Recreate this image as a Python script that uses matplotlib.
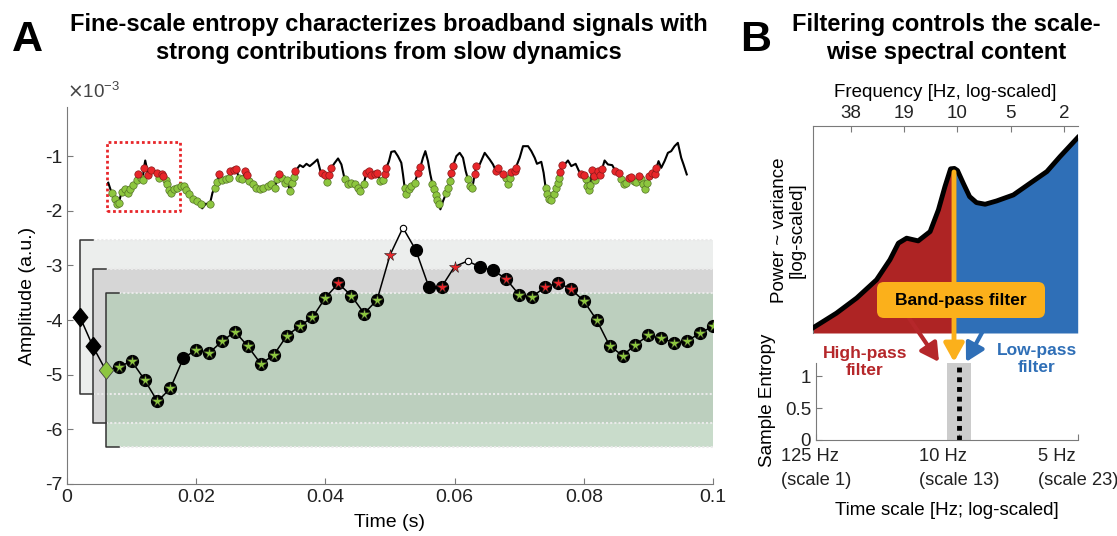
import numpy as np
import matplotlib
matplotlib.use('Agg')
import matplotlib.pyplot as plt
from matplotlib.patches import FancyBboxPatch, FancyArrowPatch
from matplotlib.path import Path
from matplotlib.ticker import FuncFormatter

plt.rcParams['font.family'] = ['Liberation Sans', 'DejaVu Sans']
plt.rcParams['axes.unicode_minus'] = False
plt.rcParams['font.size'] = 13.5

# ---- panel A data (amplitudes in units of 1e-3) ----
amp_unit = 1e-3

# raw signal (top trace): time, amplitude, class ('g' match, 'r' no match, '-' no marker)
sig_t = [0.00639, 0.00690, 0.00742, 0.00778, 0.00804, 0.00845, 0.00897, 0.00948, 0.00974, 0.01026,
         0.01077, 0.01093, 0.01139, 0.01170, 0.01191, 0.01211, 0.01258, 0.01294, 0.01345, 0.01397,
         0.01428, 0.01464, 0.01490, 0.01531, 0.01552, 0.01573, 0.01604, 0.01655, 0.01706, 0.01758,
         0.01809, 0.01840, 0.01892, 0.01953, 0.02015, 0.02067, 0.02093, 0.02149, 0.02211, 0.02252,
         0.02288, 0.02324, 0.02355, 0.02396, 0.02458, 0.02500, 0.02530, 0.02582, 0.02623, 0.02659,
         0.02716, 0.02757, 0.02788, 0.02820, 0.02882, 0.02933, 0.02985, 0.03036, 0.03114, 0.03165,
         0.03217, 0.03253, 0.03284, 0.03330, 0.03372, 0.03408, 0.03449, 0.03490, 0.03516, 0.03537,
         0.03604, 0.03655, 0.03707, 0.03758, 0.03820, 0.03877, 0.03923, 0.03954, 0.03990, 0.04026,
         0.04057, 0.04093, 0.04145, 0.04196, 0.04248, 0.04299, 0.04350, 0.04402, 0.04453, 0.04505,
         0.04541, 0.04592, 0.04634, 0.04670, 0.04711, 0.04763, 0.04799, 0.04850, 0.04892, 0.04917,
         0.04943, 0.04984, 0.05020, 0.05072, 0.05123, 0.05175, 0.05201, 0.05227, 0.05253, 0.05294,
         0.05330, 0.05382, 0.05433, 0.05470, 0.05510, 0.05547, 0.05588, 0.05624, 0.05656, 0.05682,
         0.05707, 0.05733, 0.05759, 0.05780, 0.05821, 0.05873, 0.05898, 0.05924, 0.05950, 0.05976,
         0.06027, 0.06079, 0.06130, 0.06172, 0.06208, 0.06234, 0.06275, 0.06311, 0.06337, 0.06388,
         0.06466, 0.06543, 0.06595, 0.06640, 0.06667, 0.06749, 0.06790, 0.06827, 0.06853, 0.06879,
         0.06931, 0.06946, 0.07007, 0.07059, 0.07137, 0.07188, 0.07240, 0.07275, 0.07342, 0.07378,
         0.07409, 0.07435, 0.07461, 0.07497, 0.07533, 0.07564, 0.07600, 0.07616, 0.07636, 0.07662,
         0.07703, 0.07755, 0.07806, 0.07874, 0.07925, 0.07961, 0.07997, 0.08028, 0.08049, 0.08075,
         0.08101, 0.08127, 0.08160, 0.08177, 0.08219, 0.08255, 0.08281, 0.08322, 0.08374, 0.08440,
         0.08490, 0.08543, 0.08579, 0.08615, 0.08656, 0.08697, 0.08734, 0.08770, 0.08811, 0.08852,
         0.08888, 0.08914, 0.08945, 0.08981, 0.09017, 0.09059, 0.09095, 0.09121, 0.09157, 0.09199,
         0.09250, 0.09302, 0.09353, 0.09405, 0.09456, 0.09508, 0.09544, 0.09594]
sig_amp = [-1.486, -1.669, -1.790, -1.882, -1.851, -1.651, -1.608, -1.669, -1.608, -1.529,
           -1.444, -1.334, -1.407, -1.444, -1.213, -1.079, -1.346, -1.261, -1.290, -1.316,
           -1.395, -1.334, -1.365, -1.444, -1.517, -1.626, -1.669, -1.608, -1.590, -1.547,
           -1.547, -1.626, -1.699, -1.778, -1.821, -1.869, -1.955, -1.870, -1.882, -1.669,
           -1.578, -1.474, -1.334, -1.444, -1.419, -1.407, -1.273, -1.261, -1.243, -1.395,
           -1.426, -1.273, -1.346, -1.456, -1.517, -1.578, -1.608, -1.578, -1.547, -1.517,
           -1.578, -1.426, -1.334, -1.395, -1.486, -1.444, -1.638, -1.486, -1.383, -1.273,
           -1.164, -1.200, -1.140, -1.182, -1.121, -1.060, -1.273, -1.304, -1.346, -1.468,
           -1.346, -1.213, -1.121, -1.042, -1.152, -1.426, -1.517, -1.486, -1.517, -1.578,
           -1.638, -1.517, -1.304, -1.273, -1.346, -1.334, -1.304, -1.456, -1.444, -1.334,
           -1.213, -1.091, -0.921, -0.908, -1.000, -1.121, -1.334, -1.578, -1.687, -1.608,
           -1.547, -1.486, -1.304, -1.200, -1.030, -0.908, -1.091, -1.334, -1.504, -1.608,
           -1.711, -1.809, -1.882, -1.973, -1.821, -1.669, -1.578, -1.456, -1.304, -1.182,
           -1.000, -0.939, -1.030, -1.273, -1.426, -1.547, -1.578, -1.334, -1.182, -1.152,
           -0.939, -1.060, -1.152, -1.273, -1.213, -1.334, -1.395, -1.504, -1.395, -1.285,
           -1.273, -1.213, -1.030, -0.817, -0.817, -0.908, -1.030, -1.140, -1.103, -1.304,
           -1.578, -1.687, -1.790, -1.809, -1.687, -1.578, -1.486, -1.407, -1.285, -1.170,
           -1.152, -1.079, -1.182, -1.140, -1.273, -1.322, -1.346, -1.426, -1.547, -1.626,
           -1.529, -1.261, -1.365, -1.444, -1.273, -1.346, -1.243, -1.079, -1.152, -1.164,
           -1.273, -1.304, -1.426, -1.517, -1.492, -1.407, -1.383, -1.456, -1.468, -1.365,
           -1.426, -1.517, -1.608, -1.486, -1.365, -1.304, -1.334, -1.225, -1.091, -1.213,
           -1.091, -0.939, -0.908, -0.817, -0.756, -1.030, -1.152, -1.334]
sig_cls = list('-ggggggggg' 'grggr-rr-r' 'grrggggggg' 'gggggg--g-' 'ggrgggrrrg'
               'grrggggggg' 'ggrggggggr' '-------rrg' 'rr---ggggg' 'ggrrrrrggr'
               'r------ggg' 'ggrr----gg' 'ggg--gggrr' '----gggrr-' '---rrrgggr'
               'rr--------' 'ggggggggrr' '-----rrggg' 'grrgrrr---' 'rrgggrrggr'
               'ggggrrrr--' '--------')

# coarse trace (bottom): one value per 2 ms
lo_t = np.arange(1, 51) * 0.002
lo_amp = [-3.94, -4.48, -4.92, -4.86, -4.75, -5.09, -5.49, -5.25, -4.70, -4.54,
          -4.60, -4.39, -4.21, -4.48, -4.80, -4.64, -4.29, -4.11, -3.95, -3.59,
          -3.33, -3.55, -3.88, -3.63, -2.81, -2.31, -2.72, -3.39, -3.39, -3.02,
          -2.92, -3.03, -3.09, -3.25, -3.54, -3.57, -3.40, -3.32, -3.43, -3.65,
          -4.00, -4.47, -4.65, -4.45, -4.28, -4.33, -4.42, -4.38, -4.24, -4.11]
# D black diamond, d green diamond, g green star, r red star (both on black dot),
# k black dot, s red star alone, o open circle
lo_mark = ['D', 'D', 'd', 'g', 'g', 'g', 'g', 'g', 'k', 'g',
           'g', 'g', 'g', 'g', 'g', 'g', 'g', 'g', 'g', 'g',
           'r', 'g', 'g', 'g', 's', 'o', 'k', 'k', 'r', 's',
           'o', 'k', 'k', 'r', 'g', 'g', 'r', 'r', 'r', 'g',
           'g', 'g', 'g', 'g', 'g', 'g', 'g', 'g', 'g', 'g']
tol = 1.41
band_colors = ['#ECEEED', '#D6D6D6', '#B0CCB3']
band_alpha = [1.0, 1.0, 0.68]
zoom_box = (0.0062, 0.0175, -2.0, -0.74)

# ---- panel B data ----
spec_f = [63.1, 46.3, 35.6, 27.5, 23.1, 20.7, 18.6, 16.0, 13.7, 12.3, 11.3, 10.5, 10.0,
          9.6, 8.9, 8.2, 7.5, 6.7, 5.77, 4.64, 3.74, 3.0, 2.53, 2.01]
spec_p = [0.024, 0.096, 0.169, 0.257, 0.354, 0.434, 0.458, 0.445, 0.490, 0.595, 0.707, 0.793, 0.795,
          0.785, 0.723, 0.659, 0.630, 0.622, 0.638, 0.667, 0.723, 0.780, 0.852, 0.944]
split_hz = 10.0
freq_ticks = [38.4, 19.2, 9.6, 4.8, 2.4]
freq_labels = ['38', '19', '10', '5', '2']
scale_ticks = [1, 13, 23]
scale_labels = ['125 Hz\n(scale 1)', '10 Hz\n(scale 13)', '5 Hz\n(scale 23)']
band_scale = (12, 14, 13)

GREEN = '#8DC63F'
RED = '#E8262A'
DRED = '#AE2424'
BLUE = '#2F6FB7'
ORANGE = '#FBB01B'
SPINE = '#7A7A7A'
TXT = '#222222'

W, H = 1117, 536
fig = plt.figure(figsize=(W / 100, H / 100), dpi=100)


def rect(x0, y0, x1, y1):
    return [x0 / W, 1 - y1 / H, (x1 - x0) / W, (y1 - y0) / H]


def inch(x, y):
    return (x / 100, (H - y) / 100)


def style(ax):
    for s in ['top', 'right']:
        ax.spines[s].set_visible(False)
    for s in ['left', 'bottom']:
        ax.spines[s].set_color(SPINE)
    ax.tick_params(direction='in', color=SPINE, labelcolor=TXT, length=4)


# ================= panel A =================
axA = fig.add_axes(rect(67, 107, 713, 484))
style(axA)
axA.tick_params(labelsize=14)

sig_t = np.array(sig_t)
sig_amp = np.array(sig_amp) * amp_unit
sig_cls = np.array(sig_cls)
lo_amp_s = np.array(lo_amp) * amp_unit

for i in range(3):
    x0 = lo_t[i]
    hi = (lo_amp[i] + tol) * amp_unit
    lo = (lo_amp[i] - tol) * amp_unit
    axA.fill_between([x0, 0.1], lo, hi, color=band_colors[i], alpha=band_alpha[i], lw=0, zorder=1 + i * 0.1)
    for yy in (hi, lo):
        axA.plot([x0 + 0.002, 0.1], [yy, yy], color='#EAEAEA', lw=1.5, ls=(0, (1, 1)), zorder=1.5)
    axA.plot([x0 + 0.002, x0, x0, x0 + 0.002], [hi, hi, lo, lo], color='#333333', lw=1.1, zorder=3)

x0, x1, y0, y1 = zoom_box
axA.plot([x0, x1, x1, x0, x0], np.array([y0, y0, y1, y1, y0]) * amp_unit,
         color='#E8262A', lw=2, ls=(0, (1, 1)), zorder=3)

axA.plot(sig_t, sig_amp, color='k', lw=1.5, zorder=4)
m = sig_cls == 'g'
axA.plot(sig_t[m], sig_amp[m], 'o', ms=5.3, mfc=GREEN, mec='#557328', mew=0.5, zorder=5)
m = sig_cls == 'r'
axA.plot(sig_t[m], sig_amp[m], 'o', ms=5.3, mfc=RED, mec='#8A1A1A', mew=0.5, zorder=5)

axA.plot(lo_t, lo_amp_s, color='k', lw=1.1, zorder=6)
diamond = Path([(0, 1), (0.8, 0), (0, -1), (-0.8, 0), (0, 1)])
for t, a, c in zip(lo_t, lo_amp_s, lo_mark):
    if c in 'gkr':
        axA.plot(t, a, 'o', ms=8.5, color='k', zorder=7)
    if c == 'g':
        axA.plot(t, a, '*', ms=8.5, mfc=GREEN, mec='#222222', mew=0.4, zorder=8)
    if c in 'rs':
        axA.plot(t, a, '*', ms=8.5, mfc=RED, mec='#222222', mew=0.4, zorder=8)
    if c == 'D':
        axA.plot(t, a, marker=diamond, ms=13, color='k', zorder=8)
    if c == 'd':
        axA.plot(t, a, marker=diamond, ms=13, mfc=GREEN, mec='#444444', mew=0.6, zorder=8)
    if c == 'o':
        axA.plot(t, a, 'o', ms=4.6, mfc='white', mec='k', mew=0.8, zorder=8)

axA.set_xlim(0, 0.1)
axA.set_ylim(-7 * amp_unit, -0.1 * amp_unit)
axA.set_xticks(np.arange(0, 0.101, 0.02))
axA.xaxis.set_major_formatter(FuncFormatter(lambda v, p: '%g' % round(v, 3)))
axA.set_yticks(np.arange(-7, 0) * amp_unit)
axA.yaxis.set_major_formatter(FuncFormatter(lambda v, p: '%d' % round(v / amp_unit)))
axA.text(0.0, 1.012, r'$\times$10$^{\mathregular{-3}}$', transform=axA.transAxes,
         ha='left', va='bottom', size=13.5, color='#444444')
axA.set_xlabel('Time (s)', labelpad=6, size=14)
axA.set_ylabel('Amplitude (a.u.)', labelpad=6, size=14)

fig.text(389 / W, 1 - 24 / H, 'Fine-scale entropy characterizes broadband signals with',
         ha='center', va='center', weight='bold', size=17)
fig.text(389 / W, 1 - 52 / H, 'strong contributions from slow dynamics',
         ha='center', va='center', weight='bold', size=17)
fig.text(27 / W, 1 - 40 / H, 'A', ha='center', va='center', weight='bold', size=31)

# ================= panel B (spectrum) =================
axB1 = fig.add_axes(rect(812.7, 126, 1077.7, 333))
spec_f = np.array(spec_f)
spec_p = np.array(spec_p)
m = spec_f >= split_hz
axB1.fill_between(spec_f[m], 0, spec_p[m], color=DRED, lw=0)
m = spec_f <= split_hz
axB1.fill_between(spec_f[m], 0, spec_p[m], color=BLUE, lw=0)
axB1.plot(spec_f, spec_p, color='k', lw=3.5, solid_joinstyle='round', zorder=3)
axB1.set_xscale('log')
axB1.set_xlim(spec_f[0], spec_f[-1])
axB1.set_ylim(0, 1)
axB1.xaxis.tick_top()
axB1.xaxis.set_label_position('top')
axB1.set_xticks(freq_ticks, labels=freq_labels)
axB1.minorticks_off()
axB1.set_yticks([])
axB1.set_xlabel('Frequency [Hz, log-scaled]', labelpad=6)
for s in ['bottom', 'right']:
    axB1.spines[s].set_visible(False)
for s in ['top', 'left']:
    axB1.spines[s].set_color(SPINE)
axB1.tick_params(direction='in', color=SPINE, labelcolor=TXT, length=4, pad=3)

fig.text(788 / W, 1 - 230 / H, 'Power ~ variance\n[log-scaled]', rotation=90,
         ha='center', va='center', size=13.5, linespacing=1.05)

# ================= panel B (entropy) =================
axB2 = fig.add_axes(rect(816, 363.3, 1078.3, 440))
style(axB2)
axB2.axvspan(band_scale[0], band_scale[1], color='#CCCCCC', lw=0)
axB2.plot([band_scale[2]] * 2, [0, 1.2], color='k', lw=3.5, ls=(0, (1, 1)))
axB2.set_xlim(1, 23)
axB2.set_ylim(0, 1.2)
axB2.set_yticks([0, 0.5, 1], labels=['0', '0.5', '1'])
axB2.set_xticks(scale_ticks, labels=scale_labels)
for lab in axB2.get_xticklabels():
    lab.set_multialignment('left')
    lab.set_linespacing(1.55)
axB2.tick_params(axis='x', pad=6, labelsize=13.2)
axB2.set_xlabel('Time scale [Hz; log-scaled]', labelpad=9)
fig.text(767 / W, 1 - 400 / H, 'Sample Entropy', rotation=90, ha='center', va='center', size=13.5)

# filter annotations
fig.add_artist(FancyArrowPatch(inch(954, 172), inch(954, 362), transform=fig.dpi_scale_trans,
                               arrowstyle='-|>,head_length=0.45,head_width=0.25', mutation_scale=24,
                               color=ORANGE, lw=3.5, shrinkA=0, shrinkB=0, zorder=5))
fig.add_artist(FancyBboxPatch(inch(877, 318), 1.68, 0.36, transform=fig.dpi_scale_trans,
                              boxstyle='round,pad=0,rounding_size=0.07', fc=ORANGE, ec='none', zorder=6))
fig.text(961 / W, 1 - 300 / H, 'Band-pass filter', ha='center', va='center', weight='bold',
         size=12.5, zorder=7)
fig.add_artist(FancyArrowPatch(inch(909, 318), inch(939, 362), transform=fig.dpi_scale_trans,
                               arrowstyle='-|>,head_length=0.45,head_width=0.25', mutation_scale=24,
                               color='#B5272A', lw=3, shrinkA=0, shrinkB=0, zorder=5))
fig.add_artist(FancyArrowPatch(inch(990, 318), inch(966, 362), transform=fig.dpi_scale_trans,
                               arrowstyle='-|>,head_length=0.45,head_width=0.25', mutation_scale=24,
                               color=BLUE, lw=3, shrinkA=0, shrinkB=0, zorder=5))
fig.text(865 / W, 1 - 362 / H, 'High-pass\nfilter', ha='center', va='center', weight='bold',
         size=12.5, color='#B5272A', linespacing=1.2)
fig.text(1037 / W, 1 - 359 / H, 'Low-pass\nfilter', ha='center', va='center', weight='bold',
         size=12.5, color=BLUE, linespacing=1.2)

fig.text(946 / W, 1 - 24 / H, 'Filtering controls the scale-', ha='center', va='center',
         weight='bold', size=17)
fig.text(946 / W, 1 - 52 / H, 'wise spectral content', ha='center', va='center',
         weight='bold', size=17)
fig.text(756 / W, 1 - 40 / H, 'B', ha='center', va='center', weight='bold', size=31)

fig.savefig('out.png', dpi=100)
